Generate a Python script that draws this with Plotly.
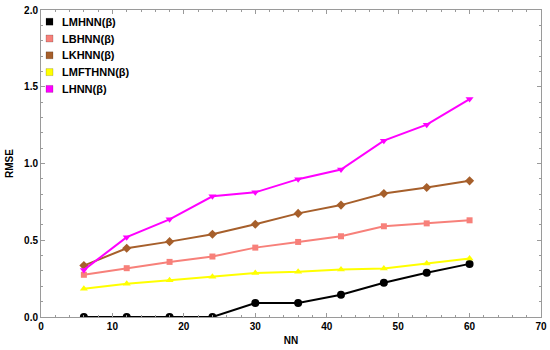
import plotly.graph_objects as go

nn = [6, 12, 18, 24, 30, 36, 42, 48, 54, 60]
lmhnn = [0.0, 0.0, 0.0, 0.0, 0.091, 0.091, 0.145, 0.223, 0.288, 0.346]
lbhnn = [0.275, 0.318, 0.359, 0.394, 0.452, 0.489, 0.526, 0.591, 0.610, 0.630]
lkhnn = [0.335, 0.448, 0.491, 0.539, 0.604, 0.675, 0.729, 0.805, 0.844, 0.887]
lmfthnn = [0.184, 0.216, 0.240, 0.262, 0.286, 0.294, 0.310, 0.316, 0.348, 0.381]
lhnn = [0.307, 0.520, 0.636, 0.786, 0.812, 0.898, 0.961, 1.149, 1.253, 1.420]

series = [
    ("LMHNN(β)", lmhnn, "black", "circle", 8),
    ("LBHNN(β)", lbhnn, "#F7807A", "square", 6),
    ("LKHNN(β)", lkhnn, "#A65F2B", "diamond", 7),
    ("LMFTHNN(β)", lmfthnn, "#FFFF00", "triangle-up", 7),
    ("LHNN(β)", lhnn, "#FF00FF", "triangle-down", 7),
]

FONT = "Liberation Sans"
fig = go.Figure()
for name, vals, col, sym, sz in series:
    fig.add_trace(go.Scatter(
        x=nn, y=vals, name=name, mode="lines+markers",
        line=dict(color=col, width=2),
        marker=dict(color=col, symbol=sym, size=sz),
        showlegend=False,
    ))

# custom legend (square swatches + labels), top-left inside plot
W, H, L, T = 500.0, 307.0, 41.0, 10.0
row0, rowgap = 21.7, 16.8
for i, (name, vals, col, sym, sz) in enumerate(series):
    cy = row0 + i * rowgap
    fig.add_shape(
        type="rect", xref="paper", yref="paper",
        x0=(46 - L) / W, x1=(53 - L) / W,
        y0=1 - (cy - 3.5 - T) / H, y1=1 - (cy + 3.5 - T) / H,
        fillcolor=col, line=dict(color="rgba(0,0,0,0.35)", width=0.5),
    )
    fig.add_annotation(
        text=name, xref="paper", yref="paper",
        x=(59.5 - L) / W, y=1 - (cy - T) / H,
        xanchor="left", yanchor="middle", showarrow=False,
        font=dict(family=FONT, size=11, color="black", weight="bold"),
    )

axis_common = dict(
    showline=True, linecolor="#9a9a9a", linewidth=1, mirror="allticks",
    ticks="inside", ticklen=4, tickcolor="#9a9a9a", showgrid=False, zeroline=False,
    automargin=False,
    tickfont=dict(family=FONT, size=10, color="black", weight="bold"),
)

fig.update_xaxes(
    range=[0, 70], dtick=10, tick0=0,
    minor=dict(ticks="inside", dtick=2, ticklen=2, tickcolor="#9a9a9a"),
    title=dict(text="NN", font=dict(family=FONT, size=10, color="black", weight="bold"), standoff=5),
    **axis_common,
)
fig.update_yaxes(
    range=[0, 2.0], dtick=0.5, tick0=0, tickformat=".1f",
    minor=dict(ticks="inside", dtick=0.1, ticklen=2, tickcolor="#9a9a9a"),
    title=dict(text="RMSE", font=dict(family=FONT, size=10, color="black", weight="bold"), standoff=8),
    **axis_common,
)

fig.update_layout(
    width=550, height=350,
    margin=dict(l=41, r=9, t=10, b=33),
    paper_bgcolor="white", plot_bgcolor="white",
    showlegend=False,
)

fig.write_html(
    "out.html",
    config={"displayModeBar": False},
    post_script="document.body.style.margin='0';document.body.style.overflow='hidden';",
)
